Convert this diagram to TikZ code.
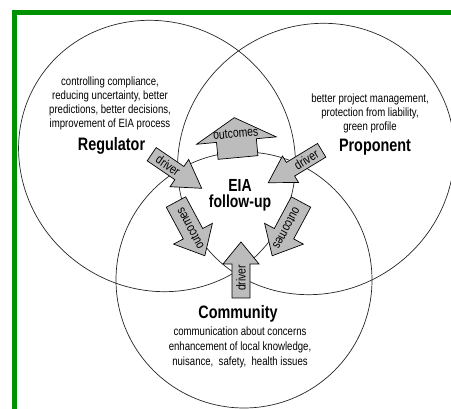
\documentclass[tikz,border=0pt]{standalone}
\usepackage{fontspec}
\setmainfont{Liberation Sans}[FakeStretch=0.8]
\begin{document}
\begin{tikzpicture}[x=1pt,y=1pt,
  circ/.style={draw=black!85,line width=0.7pt},
  barrow/.style={draw=black,line width=0.7pt,fill=agray,line join=miter},
  desc/.style={align=center,inner sep=0pt,font=\fontsize{12}{14.2}\selectfont},
  lbl/.style={inner sep=0pt,anchor=base,font=\fontsize{18}{20}\selectfont\bfseries},
  atext/.style={inner sep=0pt,font=\fontsize{13}{14}\selectfont}]
\definecolor{agray}{RGB}{188,188,188}
\definecolor{egreen}{RGB}{0,145,0}
\useasboundingbox (0,0) rectangle (451,409);
% border
\fill[egreen] (12,0) rectangle (17,399);
\fill[egreen] (12,394) rectangle (451,399);
% circles
\draw[circ,rotate around={-35:(157,253)}] (157,253) ellipse [x radius=141,y radius=133];
\draw[circ,rotate around={35:(316,250)}] (316,250) ellipse [x radius=141,y radius=133];
\draw[circ] (244,129) circle (128);
% top outcomes arrow
\begin{scope}[shift={(238,251.5)},rotate=95.3]
\draw[barrow] (0,-20) -- (17,-20) -- (17,-40) -- (40,0) -- (17,40) -- (17,20) -- (0,20) -- cycle;
\node[atext,rotate=5.3] (o1) at (24,0) {outcomes};
\end{scope}
% left driver
\begin{scope}[shift={(151.7,254.8)},rotate=-34.3]
\draw[barrow] (0,-8) -- (33.5,-8) -- (33.5,-16.5) -- (60.5,0) -- (33.5,16.5) -- (33.5,8) -- (0,8) -- cycle;
\node[atext,rotate=-34.3] (d1) at (20,0) {driver};
\end{scope}
% right driver
\begin{scope}[shift={(321.7,258.7)},rotate=211.25]
\draw[barrow] (0,-8) -- (36.5,-8) -- (36.5,-15.5) -- (62.5,0) -- (36.5,15.5) -- (36.5,8) -- (0,8) -- cycle;
\node[atext,rotate=31.25] (d2) at (18,0) {driver};
\end{scope}
% left outcomes
\begin{scope}[shift={(176,207)},rotate=-61.8]
\draw[barrow] (0,-11) -- (36,-11) -- (36,-22) -- (61,0) -- (36,22) -- (36,11) -- (0,11) -- cycle;
\node[atext,rotate=118.2] (o2) at (30,0) {outcomes};
\end{scope}
% right outcomes
\begin{scope}[shift={(301,207)},rotate=241.8]
\draw[barrow] (0,-11) -- (36,-11) -- (36,-22) -- (61,0) -- (36,22) -- (36,11) -- (0,11) -- cycle;
\node[atext,rotate=-118.2] (o3) at (30,0) {outcomes};
\end{scope}
% bottom driver
\begin{scope}[shift={(241,111)},rotate=90]
\draw[barrow] (0,-9) -- (34,-9) -- (34,-18) -- (56,0) -- (34,18) -- (34,9) -- (0,9) -- cycle;
\node[atext,rotate=90] (d3) at (20,0) {driver};
\end{scope}
% texts
\node[desc] (regtxt) at (110,305.5) {controlling compliance,\\reducing uncertainty, better\\predictions, better decisions,\\improvement of EIA process};
\node[lbl] (reg) at (111.5,258.5) {Regulator};
\node[desc] (protxt) at (370,295.5) {better project management,\\protection from liability,\\green profile};
\node[lbl] (pro) at (375,257) {Proponent};
\node[align=center,inner sep=0pt,font=\fontsize{17.5}{16.5}\selectfont\bfseries] (eia) at (240,213.5) {EIA\\follow-up};
\node[lbl] (com) at (238,90) {Community};
\node[desc,font=\fontsize{12}{15}\selectfont] (comtxt) at (240,62) {communication about concerns\\enhancement of local knowledge,\\nuisance,\ \ safety,\ \ health issues};
\end{tikzpicture}
\end{document}
